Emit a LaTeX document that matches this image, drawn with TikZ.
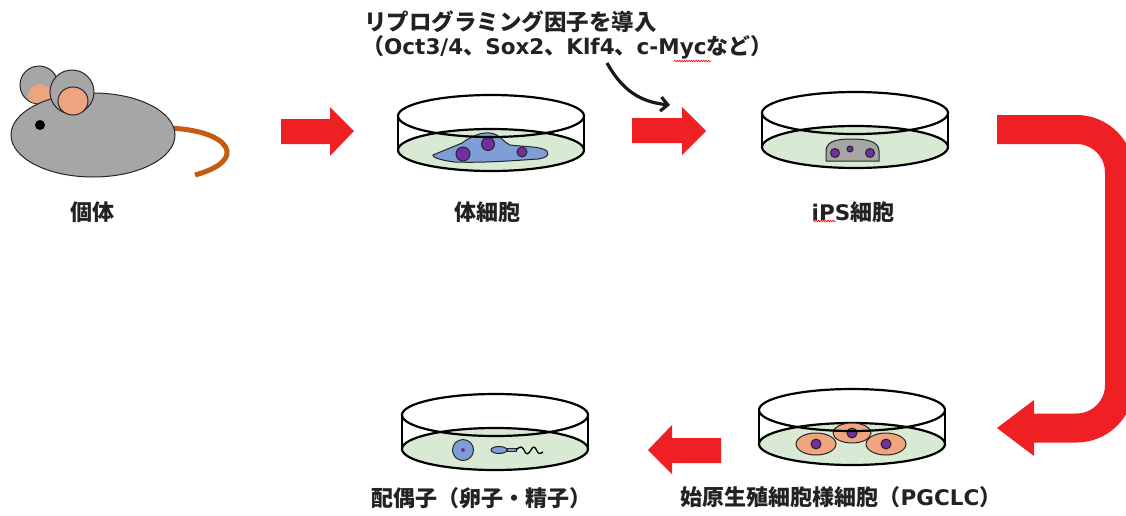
\documentclass[tikz,border=0pt]{standalone}
\usepackage{fontspec}
\setmainfont{Noto Sans CJK JP}
\newfontfamily\latinpart{DejaVu Sans}
\usetikzlibrary{arrows.meta,decorations.pathmorphing}

\definecolor{mousegray}{HTML}{A6A6A6}
\definecolor{earpink}{HTML}{EEA47E}
\definecolor{tailbrown}{HTML}{C55A11}
\definecolor{dishgreen}{HTML}{D8EAD3}
\definecolor{cellblue}{HTML}{7F9ED8}
\definecolor{nucpurple}{HTML}{7030A0}
\definecolor{cellgray}{HTML}{A5A5A5}
\definecolor{cellorange}{HTML}{EFA57E}
\definecolor{flowred}{HTML}{EE2024}
\definecolor{labeltext}{HTML}{222222}

\tikzset{
  outline/.style={draw=black!85, line width=1pt},
  dishline/.style={draw=black, line width=2.2pt},
  nucleus/.style={outline, fill=nucpurple},
  flowarrow/.style={fill=flowred, draw=none},
  caption/.style={text=labeltext, font=\fontsize{22}{26}\selectfont\bfseries, inner sep=0pt},
  spellmark/.style={draw=red, line width=0.6pt, decorate,
    decoration={snake, segment length=2.4pt, amplitude=0.8pt}}
}

% lower part of a culture dish: green medium and side walls
\newcommand\dishbase[2]{%
  \begin{scope}[shift={(#1,#2)}]
    \path[dishline, fill=dishgreen] (0,34) ellipse [x radius=93pt, y radius=21pt];
    \draw[dishline] (-93,0) -- (-93,34) (93,0) -- (93,34);
  \end{scope}}
% rim of a culture dish
\newcommand\dishrim[2]{%
  \begin{scope}[shift={(#1,#2)}]
    \draw[dishline] (0,0) ellipse [x radius=93pt, y radius=21pt];
  \end{scope}}
% Latin words inside the Japanese captions
\newcommand\lt[1]{{\latinpart\bfseries\fontsize{21.5}{26}\selectfont #1}}

\begin{document}
\begin{tikzpicture}[x=1pt, y=-1pt]
\useasboundingbox (0,0) rectangle (1126,515);

% ---------- mouse ----------
\draw[tailbrown, line width=5pt] (168,128) .. controls (230,130) and (250,160) .. (195,175);
\path[outline, fill=mousegray] (39,85) circle [radius=19pt];
\begin{scope}
  \clip (39,85) circle [radius=18.5pt];
  \path[fill=earpink] (40,96) circle [radius=12pt];
\end{scope}
\path[outline, fill=mousegray] (93,135) ellipse [x radius=82pt, y radius=42pt];
\path[outline, fill=mousegray] (72,92) circle [radius=22pt];
\path[outline, fill=earpink] (73,101) ellipse [x radius=15pt, y radius=14pt];
\fill[black] (40,125) circle [radius=5pt];
\node[caption] (lblbody) at (92,212) {個体};

% ---------- somatic cell dish ----------
\dishbase{491}{116}
\path[outline, fill=cellblue] (433,155) .. controls (445,150) and (455,146) .. (462,143)
  .. controls (470,137) and (480,132) .. (490,133)
  .. controls (500,134) and (503,142) .. (510,145)
  .. controls (525,147) and (540,146) .. (547,151)
  .. controls (550,156) and (545,158) .. (538,159)
  .. controls (510,161) and (480,163) .. (455,162)
  .. controls (445,161) and (432,158) .. (433,155) -- cycle;
\path[nucleus] (463,154) circle [radius=7pt];
\path[nucleus] (488,144) circle [radius=6.5pt];
\path[nucleus] (522,152) circle [radius=5pt];
\dishrim{491}{116}
\node[caption] (lblsoma) at (487,212) {体細胞};

% ---------- iPS cell dish ----------
\dishbase{855}{113}
\path[outline, fill=cellgray] (826,161) -- (826,150) .. controls (827,140) and (840,139) .. (852,139)
  .. controls (866,139) and (879,141) .. (879,151) -- (879,161) -- cycle;
\path[nucleus] (835,153) circle [radius=4.5pt];
\path[nucleus] (850,149) circle [radius=3pt];
\path[nucleus] (870,153) circle [radius=4.5pt];
\dishrim{855}{113}
\node[caption] (lblips) at (853,212) {\lt{iPS}細胞};
\draw[spellmark] (813,221) -- (836,221);

% ---------- PGCLC dish ----------
\dishbase{852}{410}
\path[outline, fill=cellorange] (852,433) ellipse [x radius=19pt, y radius=10pt];
\path[nucleus] (852,433) circle [radius=5pt];
\path[outline, fill=cellorange] (816,444) ellipse [x radius=20pt, y radius=11pt];
\path[nucleus] (816,444) circle [radius=5pt];
\path[outline, fill=cellorange] (886,444) ellipse [x radius=20pt, y radius=11pt];
\path[nucleus] (886,444) circle [radius=5pt];
\dishrim{852}{410}
\node[caption] (lblpgclc) at (841,497) {始原生殖細胞様細胞（\lt{PGCLC}）};

% ---------- gamete dish ----------
\dishbase{495}{415}
\path[outline, fill=cellblue] (463,450) circle [radius=10.5pt];
\fill[nucpurple] (463,450) circle [radius=2pt];
\path[outline, fill=cellblue] (499,450) ellipse [x radius=8pt, y radius=3.5pt];
\path[outline, fill=cellblue] (507,448.5) rectangle (516,451.5);
\draw[black, line width=1.3pt] (516,450) .. controls (520,446) and (522,446) .. (524,450)
  .. controls (526,455) and (528,455) .. (531,450)
  .. controls (533,446) and (535,446) .. (537,451)
  .. controls (538,454) and (540,454) .. (543,452);
\dishrim{495}{415}
\node[caption] (lblgamete) at (481,498) {配偶子（卵子・精子）};

% ---------- reprogramming note ----------
\node[caption, anchor=west] (notea) at (364,22) {\fontsize{22.5}{26}\selectfont\bfseries リプログラミング因子を導入};
\node[caption, anchor=west] (noteb) at (362,47) {（\lt{Oct3/4}、\lt{Sox2}、\lt{Klf4}、\lt{c-Myc}など）};
\coordinate (notetip) at (670,105);
\draw[spellmark] (674,61) -- (711,61);
\draw[black!90, line width=3.2pt, -{Straight Barb[length=7pt, width=14pt, line width=3.2pt]}]
  (607,63) .. controls (622,90) and (640,102) .. (notetip);

% ---------- red flow arrows ----------
\path[flowarrow] (281,119) -- (330,119) -- (330,107) -- (354,131) -- (330,156) -- (330,144) -- (281,144) -- cycle;
\path[flowarrow] (632,118) -- (682,118) -- (682,107) -- (706,131) -- (682,155) -- (682,143) -- (632,143) -- cycle;
\draw[flowred, line width=29pt, rounded corners=43pt] (997,129.5) -- (1119.5,129.5) -- (1119.5,428) -- (1033,428);
\path[flowarrow] (1034,400) -- (997,428) -- (1034,456) -- cycle;
\path[flowarrow] (721,438) -- (672,438) -- (672,425) -- (648,450) -- (672,474) -- (672,463) -- (721,463) -- cycle;
\end{tikzpicture}
\end{document}
